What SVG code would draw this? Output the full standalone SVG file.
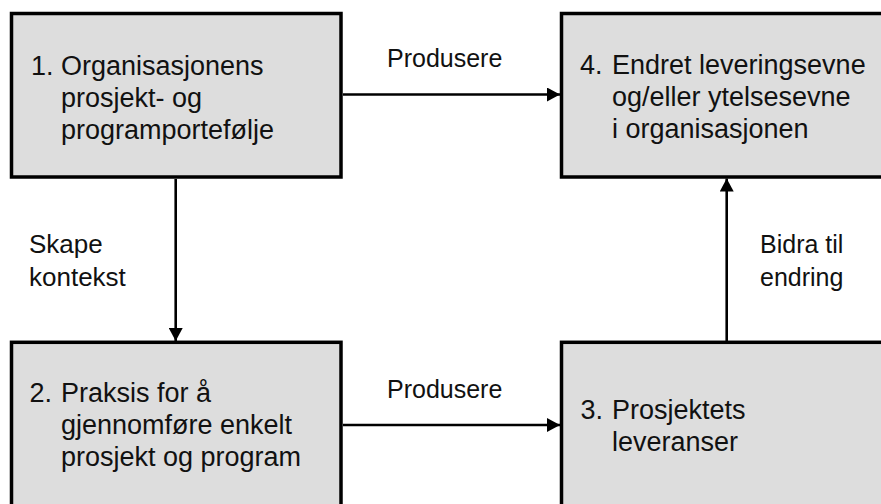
<svg xmlns="http://www.w3.org/2000/svg" width="881" height="504" viewBox="0 0 881 504">
  <style>
    .box { fill: #dddddd; stroke: #000000; stroke-width: 3.5; }
    .txt { font-family: "Liberation Sans", Arial, sans-serif; font-size: 27px; fill: #111111; }
    .lbl { font-family: "Liberation Sans", Arial, sans-serif; font-size: 25px; fill: #111111; }
    .conn { stroke: #000000; stroke-width: 2.6; fill: none; marker-end: url(#arrow); }
  </style>
  <defs>
    <marker id="arrow" markerUnits="userSpaceOnUse" markerWidth="14" markerHeight="14" refX="13" refY="7" orient="auto">
      <path d="M0,0 L13,7 L0,14 Z" fill="#000000"/>
    </marker>
  </defs>

  <g id="connectors">
    <line class="conn" x1="343" y1="94.5" x2="560" y2="94.5"/>
    <line class="conn" x1="343" y1="425" x2="560" y2="425"/>
    <line class="conn" x1="175.7" y1="179" x2="175.7" y2="341"/>
    <line class="conn" x1="726.7" y1="341" x2="726.7" y2="178.5"/>
    <text class="lbl" x="387" y="67">Produsere</text>
    <text class="lbl" x="387" y="398">Produsere</text>
    <text class="lbl" x="29" y="253" style="font-size:26px">Skape</text>
    <text class="lbl" x="29" y="286" style="font-size:26px">kontekst</text>
    <text class="lbl" x="760" y="253">Bidra til</text>
    <text class="lbl" x="760" y="286">endring</text>
  </g>

  <g id="node1">
    <rect class="box" x="11.5" y="13.5" width="329.5" height="163.5"/>
    <text class="txt" x="31" y="75">1.</text>
    <text class="txt" x="61" y="75">Organisasjonens</text>
    <text class="txt" x="61" y="107">prosjekt- og</text>
    <text class="txt" x="61" y="139">programportefølje</text>
  </g>

  <g id="node2">
    <rect class="box" x="11.5" y="342.3" width="329.5" height="170"/>
    <text class="txt" x="29.5" y="402">2.</text>
    <text class="txt" x="61" y="402">Praksis for å</text>
    <text class="txt" x="61" y="434">gjennomføre enkelt</text>
    <text class="txt" x="61" y="466">prosjekt og program</text>
  </g>

  <g id="node3">
    <rect class="box" x="561.5" y="342.3" width="330" height="170"/>
    <text class="txt" x="580.5" y="419">3.</text>
    <text class="txt" x="612" y="419">Prosjektets</text>
    <text class="txt" x="612" y="451">leveranser</text>
  </g>

  <g id="node4">
    <rect class="box" x="561.5" y="13.5" width="330" height="163.5"/>
    <text class="txt" x="580" y="74">4.</text>
    <text class="txt" x="612" y="74">Endret leveringsevne</text>
    <text class="txt" x="612" y="106">og/eller ytelsesevne</text>
    <text class="txt" x="612" y="138">i organisasjonen</text>
  </g>
</svg>
